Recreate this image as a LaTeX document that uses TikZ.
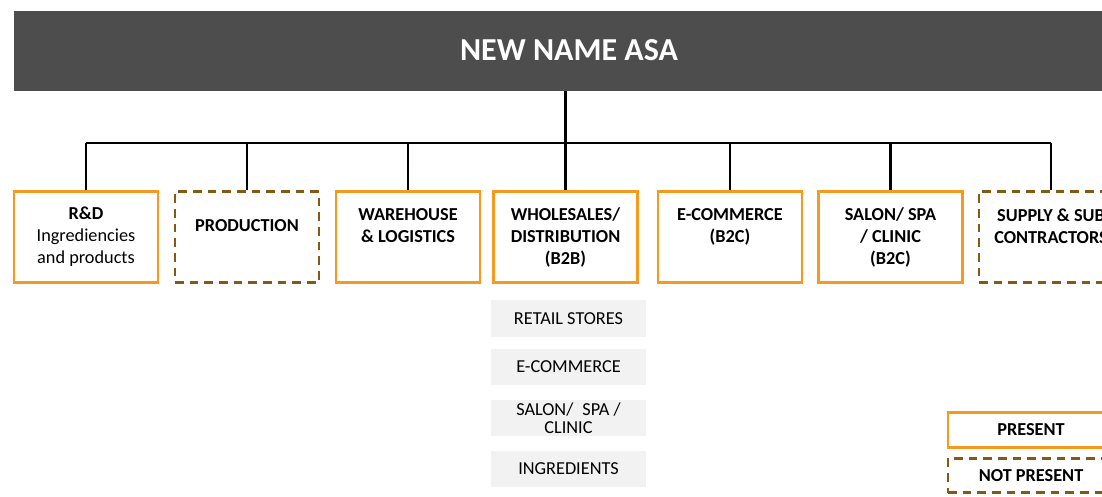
\documentclass[tikz,border=0pt]{standalone}
\usepackage{fontspec}
\setmainfont{Carlito}
\definecolor{barGray}{HTML}{4D4D4D}
\definecolor{presentOrange}{HTML}{F7991C}
\definecolor{absentBrown}{HTML}{835A12}
\definecolor{subGray}{HTML}{F2F2F2}
\tikzset{every picture/.style={line width=0.75pt}}

\begin{document}
\begin{tikzpicture}[x=0.75pt,y=0.75pt,yscale=-1,xscale=1,
  unitPresent/.style={draw=presentOrange, line width=2.2pt, minimum width=108pt, minimum height=68pt, inner sep=0pt, align=center, font=\fontsize{13.7}{16.5}\selectfont},
  unitAbsent/.style={unitPresent, draw=absentBrown, dash pattern={on 6.5pt off 4.5pt}},
  channelBox/.style={fill=subGray, minimum width=116pt, minimum height=27.5pt, inner sep=0pt, align=center, font=\fontsize{13.7}{13.5}\selectfont},
  legendBox/.style={unitPresent, minimum width=124.5pt, minimum height=26pt}]
\useasboundingbox (0,0) rectangle (1102,496);

%Shape: Top bar
\node [fill=barGray, minimum width=832.5pt, minimum height=60pt, inner sep=0pt, text=white, font=\fontsize{24}{29}\selectfont\bfseries] (top) at (569,50.5) {NEW NAME ASA};

% Units
\node [unitPresent] (rnd) at (86,237) {\textbf{R\&D}\\Ingrediencies\\and products};
\node [unitAbsent] (prd) at (247,237) {\textbf{PRODUCTION}\\ };
\node [unitPresent] (whs) at (408,237) {\textbf{WAREHOUSE}\\\textbf{\& LOGISTICS}\\ };
\node [unitPresent] (whl) at (565.5,237) {\textbf{WHOLESALES/}\\\textbf{DISTRIBUTION}\\\textbf{(B2B)}};
\node [unitPresent] (eco) at (730,237) {\textbf{E-COMMERCE}\\\textbf{(B2C)}\\ };
\node [unitPresent] (sal) at (890.5,237) {\textbf{SALON/ SPA}\\\textbf{/ CLINIC}\\\textbf{(B2C)}};
\node [unitAbsent] (sup) at (1051,237) {\textbf{SUPPLY \& SUB}\\\textbf{CONTRACTORS}\\ };

%Straight Lines
\coordinate (bus) at (565,143);
\draw [line width=1.6pt] (top.south -| whl.north) -- (whl.north);
\draw [line width=1.6pt] (rnd.north |- bus) -- (sup.north |- bus);
\foreach \u in {rnd,prd,whs,eco,sal,sup}
  \draw [line width=1.6pt] (\u.north) -- (\u.north |- bus);

% Channels under wholesales
\node [channelBox] (rtl) at (568.5,318.5) {RETAIL STORES};
\node [channelBox] (ecm) at (568.5,367) {E-COMMERCE};
\node [channelBox] (spa) at (568.5,418) {SALON/\enspace SPA /\\CLINIC};
\node [channelBox] (ing) at (568.5,469) {INGREDIENTS};

% Legend
\node [legendBox] (lgP) at (1031,430) {\textbf{PRESENT}};
\node [legendBox, draw=absentBrown, dash pattern={on 6.5pt off 4.5pt}] (lgN) at (1031,475.5) {\textbf{NOT PRESENT}};
\end{tikzpicture}
\end{document}
